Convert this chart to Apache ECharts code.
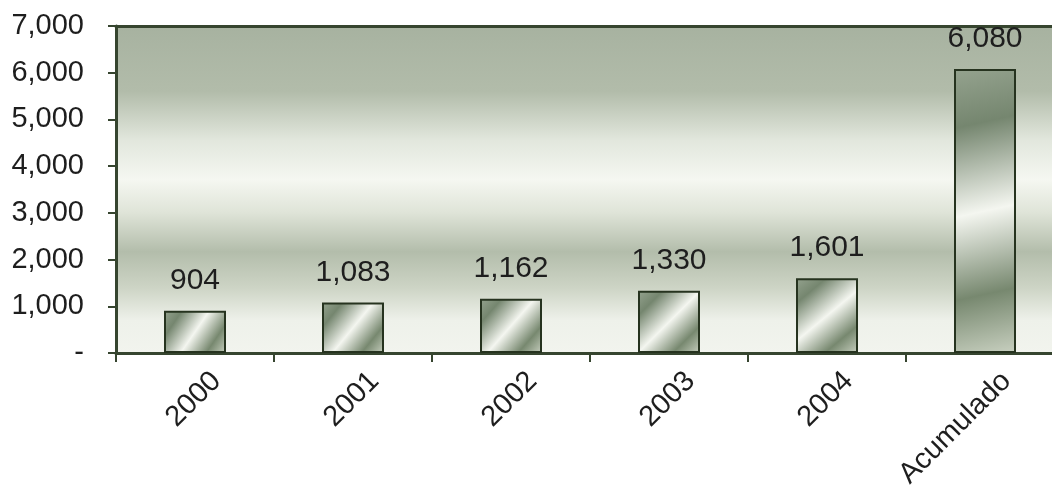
<!DOCTYPE html>
<html>
<head>
<meta charset="utf-8">
<script src="https://cdn.jsdelivr.net/npm/echarts@6/dist/echarts.min.js"></script>
<style>html,body{margin:0;padding:0;background:#fff}#c{width:1052px;height:490px}</style>
</head>
<body>
<div id="c"></div>
<script>
const categories = ['2000', '2001', '2002', '2003', '2004', 'Acumulado'];
const values = [904, 1083, 1162, 1330, 1601, 6080];
const yTicks = [0, 1000, 2000, 3000, 4000, 5000, 6000, 7000];

const fmt = v => v === 0 ? '-' : v.toLocaleString('en-US');
const axisColor = '#36452f';
const font = '"Liberation Sans", Arial, sans-serif';

const chart = echarts.init(document.getElementById('c'));
chart.setOption({
  animation: false,
  grid: {
    left: 116, top: 26, right: -12, bottom: 137,
    containLabel: false, outerBoundsMode: 'none',
    show: true, borderWidth: 0,
    backgroundColor: new echarts.graphic.LinearGradient(0, 0, 0, 1, [
      { offset: 0, color: '#a7b2a0' },
      { offset: 0.2, color: '#b2bcaa' },
      { offset: 0.35, color: '#e2e7dd' },
      { offset: 0.47, color: '#f5f7f1' },
      { offset: 0.57, color: '#dfe4d8' },
      { offset: 0.69, color: '#b3bdab' },
      { offset: 0.8, color: '#cdd4c5' },
      { offset: 0.9, color: '#eef1ea' },
      { offset: 1, color: '#f2f4ee' }
    ])
  },
  xAxis: [{
    type: 'category',
    data: categories,
    axisLine: { lineStyle: { color: axisColor, width: 3 } },
    axisTick: { show: true, length: 9, lineStyle: { color: axisColor, width: 2 } },
    axisLabel: {
      rotate: 45, align: 'right', verticalAlign: 'top',
      padding: [16, 0, 0, 0], margin: 2,
      fontSize: 29, color: '#1e1e1e', fontFamily: font
    }
  }, {
    type: 'category',
    data: categories,
    position: 'top',
    axisLine: { lineStyle: { color: axisColor, width: 3 } },
    axisTick: { show: false },
    axisLabel: { show: false }
  }],
  yAxis: {
    type: 'value',
    min: 0, max: 7000, interval: 1000,
    splitLine: { show: false },
    axisLine: { show: true, lineStyle: { color: axisColor, width: 3 } },
    axisTick: { show: true, length: 8, lineStyle: { color: axisColor, width: 2 } },
    axisLabel: {
      margin: 32, fontSize: 29, color: '#1e1e1e', fontFamily: font,
      formatter: v => yTicks.includes(v) ? fmt(v) : ''
    }
  },
  series: [{
    type: 'bar',
    data: values,
    barWidth: 62,
    itemStyle: {
      borderColor: '#26331f',
      borderWidth: 2,
      color: new echarts.graphic.LinearGradient(0, 0, 1, 1, [
        { offset: 0, color: '#95a38f' },
        { offset: 0.2, color: '#75866f' },
        { offset: 0.5, color: '#f4f6f0' },
        { offset: 0.78, color: '#77886f' },
        { offset: 1, color: '#c8d0c0' }
      ])
    },
    label: {
      show: true, position: 'top', distance: 15,
      fontSize: 30, color: '#1e1e1e', fontFamily: font,
      formatter: p => fmt(p.value)
    }
  }]
});
</script>
</body>
</html>
